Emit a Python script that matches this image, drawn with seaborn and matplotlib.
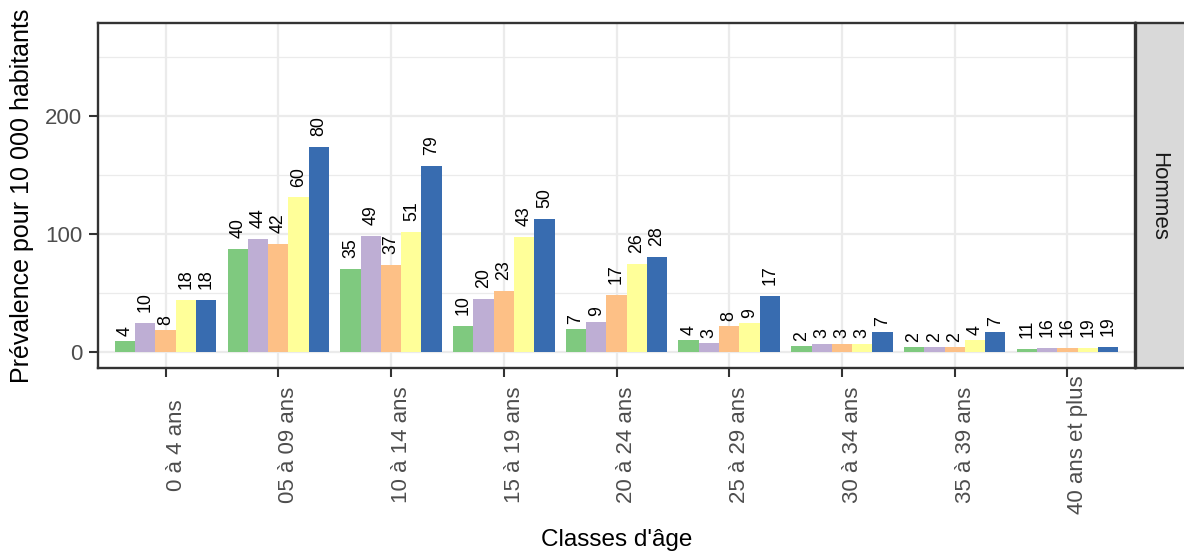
import numpy as np
import pandas as pd
import matplotlib.pyplot as plt
import seaborn as sns

# tranches d'age et séries (5 groupes de barres)
ages = ["0 à 4 ans", "05 à 09 ans", "10 à 14 ans", "15 à 19 ans", "20 à 24 ans",
        "25 à 29 ans", "30 à 34 ans", "35 à 39 ans", "40 ans et plus"]
series = ["Série 1", "Série 2", "Série 3", "Série 4", "Série 5"]
colors = ["#7FC97F", "#BEAED4", "#FDC086", "#FFFF99", "#386CB0"]

# prévalence pour 10 000 habitants
prev_s1 = [9.3, 87, 70, 22, 19.5, 10, 5, 4.2, 2.5]
prev_s2 = [24.5, 96, 98, 45, 25.5, 7.6, 6.8, 4.2, 3.4]
prev_s3 = [18.6, 91.5, 74, 52, 48, 22, 6.8, 4.2, 3.4]
prev_s4 = [44, 131, 101.5, 97.5, 74.5, 24.5, 6.8, 10, 3.4]
prev_s5 = [44, 174, 157.5, 112.5, 80.5, 47.5, 17, 17, 4.3]

# effectifs affichés au-dessus des barres
n_s1 = [4, 40, 35, 10, 7, 4, 2, 2, 11]
n_s2 = [10, 44, 49, 20, 9, 3, 3, 2, 16]
n_s3 = [8, 42, 37, 23, 17, 8, 3, 2, 16]
n_s4 = [18, 60, 51, 43, 26, 9, 3, 4, 19]
n_s5 = [18, 80, 79, 50, 28, 17, 7, 7, 19]

prevs = [prev_s1, prev_s2, prev_s3, prev_s4, prev_s5]
counts = [n_s1, n_s2, n_s3, n_s4, n_s5]

df = pd.DataFrame({
    "age": np.tile(ages, len(series)),
    "serie": np.repeat(series, len(ages)),
    "prev": np.concatenate(prevs),
})

sns.set_theme(style="white")
plt.rcParams["font.family"] = ["Liberation Sans", "DejaVu Sans"]

W, H = 1184, 558
fig = plt.figure(figsize=(W / 100, H / 100), dpi=100)
left, right, top, bottom = 98, 1135, 23, 368
ax = fig.add_axes([left / W, (H - bottom) / H, (right - left) / W, (bottom - top) / H])

sns.barplot(data=df, x="age", y="prev", hue="serie", order=ages, hue_order=series,
            palette=colors, saturation=1, width=0.9, linewidth=0, legend=False, ax=ax)

# étiquettes : décalage proportionnel à la longueur du texte (comme hjust < 0 dans ggplot)
lab_size = 12.8
for cont, n in zip(ax.containers, counts):
    for rect, v in zip(cont, n):
        txt = str(v)
        pad = 0.55 * len(txt) * 0.556 * lab_size
        ax.annotate(txt, (rect.get_x() + rect.get_width() / 2, rect.get_height()),
                    xytext=(0, pad), textcoords="offset points", rotation=90,
                    ha="center", va="bottom", fontsize=lab_size, color="black")

ax.set_xlim(-0.6, len(ages) - 0.4)
ax.set_ylim(-13.6, 278.8)
ax.set_yticks([0, 100, 200])
ax.set_yticks([50, 150, 250], minor=True)
ax.set_axisbelow(True)
ax.grid(True, which="major", color="#EBEBEB", lw=1.6)
ax.grid(True, which="minor", axis="y", color="#EBEBEB", lw=0.9)

for s in ax.spines.values():
    s.set_color("#333333")
    s.set_linewidth(1.7)

ax.tick_params(axis="both", which="major", length=6.5, width=1.5, color="#333333",
               labelsize=16, labelcolor="#4D4D4D", left=True, bottom=True)
ax.tick_params(axis="y", which="major", pad=5)
ax.tick_params(which="minor", length=0)
ax.tick_params(axis="x", pad=49)
for lab in ax.get_xticklabels():
    lab.set_rotation(90)
    lab.set_ha("left")
    lab.set_va("center")

ax.set_ylabel("Prévalence pour 10 000 habitants", fontsize=18, color="black")
ax.yaxis.set_label_coords(-0.0617, 0.5)
ax.set_xlabel("Classes d'âge", fontsize=17.5, color="black")
ax.xaxis.set_label_coords(0.5, -0.467)

# bandeau de facette à droite
strip = fig.add_axes([1136 / W, (H - bottom) / H, 50 / W, (bottom - top) / H])
strip.set_facecolor("#D9D9D9")
strip.set_xticks([])
strip.set_yticks([])
for s in strip.spines.values():
    s.set_color("#333333")
    s.set_linewidth(1.7)
fig.text(1159 / W, (H - 196) / H, "Hommes", rotation=-90, ha="center", va="center",
         fontsize=16, color="#1A1A1A")

fig.savefig("out.png", dpi=100)
